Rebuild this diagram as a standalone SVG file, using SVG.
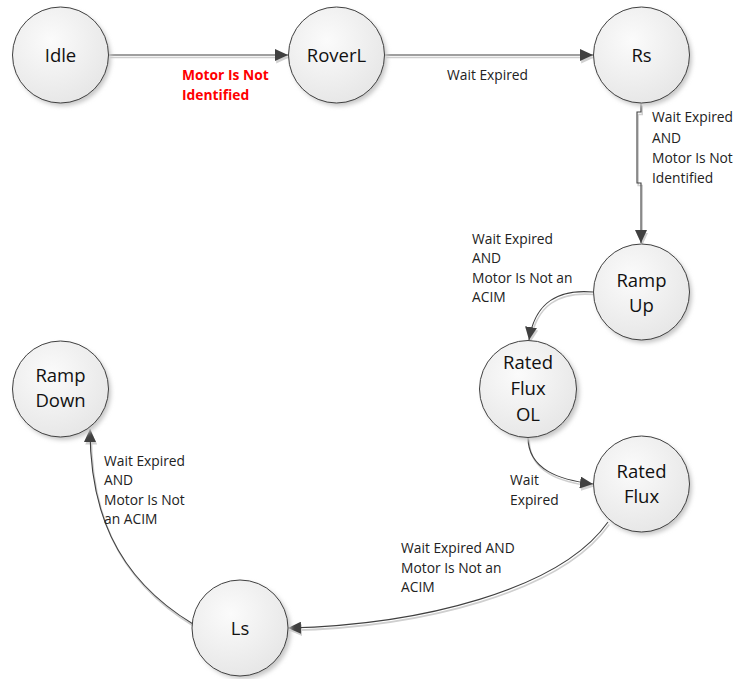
<svg xmlns="http://www.w3.org/2000/svg" width="734" height="679" viewBox="0 0 734 679">
<style>
.node circle.body{fill:url(#g);stroke:#404040;stroke-width:1}
.node circle.sh{fill:#c8c8c8;filter:url(#blur)}
.node text{font-family:"Open Sans",sans-serif;font-size:18.5px;fill:#111;text-anchor:middle}
.conn path.l{fill:none;stroke:#404040;stroke-width:1.1;marker-end:url(#ah)}
.conn path.s{fill:none;stroke:#cfcfcf;stroke-width:1.6;marker-end:url(#ahs)}
.lbl{font-family:"Open Sans",sans-serif;font-size:13.8px;fill:#222}
.red{fill:#ff0000;font-weight:bold}
</style>
<defs>
<radialGradient id="g" cx="0.4" cy="0.35" r="0.7">
<stop offset="0" stop-color="#fbfbfb"/>
<stop offset="1" stop-color="#e6e6e6"/>
</radialGradient>
<filter id="blur" x="-20%" y="-20%" width="140%" height="140%"><feGaussianBlur stdDeviation="2"/></filter>
<marker id="ah" markerUnits="userSpaceOnUse" markerWidth="14" markerHeight="12" refX="13" refY="6" orient="auto"><path d="M0,0 L13,6 L0,12 Z" fill="#404040"/></marker>
<marker id="ahs" markerUnits="userSpaceOnUse" markerWidth="14" markerHeight="12" refX="13" refY="6" orient="auto"><path d="M0,0 L13,6 L0,12 Z" fill="#d0d0d0"/></marker>
</defs>
<rect width="734" height="679" fill="#ffffff"/>

<g id="connectors" class="conn">
<g transform="translate(1.2,2.5)">
<path class="s" d="M109,55 L288,55"/>
<path class="s" d="M385,55 L593,55"/>
<path class="s" d="M641,103 L641,112 L637,112 L637,183 L641,183 L641,243"/>
<path class="s" d="M593,292 C558,289 535,302 529,340"/>
<path class="s" d="M528,437 C528,470 560,480 593,484"/>
<path class="s" d="M608,522 C560,590 420,625 288,628"/>
<path class="s" d="M193,624 C112,575 90,505 90,429"/>
</g>
<path class="l" d="M109,55 L288,55"/>
<path class="l" d="M385,55 L593,55"/>
<path class="l" d="M641,103 L641,112 L637,112 L637,183 L641,183 L641,243"/>
<path class="l" d="M593,292 C558,289 535,302 529,340"/>
<path class="l" d="M528,437 C528,470 560,480 593,484"/>
<path class="l" d="M608,522 C560,590 420,625 288,628"/>
<path class="l" d="M193,624 C112,575 90,505 90,429"/>
</g>

<g id="labels">
<text class="lbl red" x="182" y="80">Motor Is Not</text>
<text class="lbl red" x="182" y="100">Identified</text>
<text class="lbl" x="447" y="80">Wait Expired</text>
<text class="lbl" x="652" y="122">Wait Expired</text>
<text class="lbl" x="652" y="143">AND</text>
<text class="lbl" x="652" y="163">Motor Is Not</text>
<text class="lbl" x="652" y="183">Identified</text>
<text class="lbl" x="472" y="244">Wait Expired</text>
<text class="lbl" x="472" y="263">AND</text>
<text class="lbl" x="472" y="283">Motor Is Not an</text>
<text class="lbl" x="472" y="302">ACIM</text>
<text class="lbl" x="510" y="485">Wait</text>
<text class="lbl" x="510" y="505">Expired</text>
<text class="lbl" x="104" y="466">Wait Expired</text>
<text class="lbl" x="104" y="485">AND</text>
<text class="lbl" x="104" y="505">Motor Is Not</text>
<text class="lbl" x="104" y="524">an ACIM</text>
<text class="lbl" x="401" y="553">Wait Expired AND</text>
<text class="lbl" x="401" y="573">Motor Is Not an</text>
<text class="lbl" x="401" y="592">ACIM</text>
</g>

<g id="idle" class="node"><circle class="sh" cx="63" cy="58" r="48"/><circle class="body" cx="60.5" cy="55" r="48"/><text x="60.5" y="62">Idle</text></g>
<g id="roverl" class="node"><circle class="sh" cx="339" cy="58" r="48"/><circle class="body" cx="336.5" cy="55" r="48"/><text x="336.5" y="62">RoverL</text></g>
<g id="rs" class="node"><circle class="sh" cx="644" cy="58" r="48"/><circle class="body" cx="641.5" cy="55" r="48"/><text x="641.5" y="62">Rs</text></g>
<g id="rampup" class="node"><circle class="sh" cx="644" cy="295" r="48"/><circle class="body" cx="641.5" cy="292" r="48"/><text x="641.5" y="287">Ramp</text><text x="641.5" y="312">Up</text></g>
<g id="ratedfluxol" class="node"><circle class="sh" cx="531" cy="392" r="48.5"/><circle class="body" cx="528" cy="389" r="48.5"/><text x="528" y="369">Rated</text><text x="528" y="395">Flux</text><text x="528" y="421">OL</text></g>
<g id="ratedflux" class="node"><circle class="sh" cx="644" cy="487" r="48"/><circle class="body" cx="641.5" cy="484" r="48"/><text x="641.5" y="478">Rated</text><text x="641.5" y="503">Flux</text></g>
<g id="rampdown" class="node"><circle class="sh" cx="63" cy="392" r="48"/><circle class="body" cx="60.5" cy="389" r="48"/><text x="60.5" y="382">Ramp</text><text x="60.5" y="407">Down</text></g>
<g id="ls" class="node"><circle class="sh" cx="243" cy="631" r="48"/><circle class="body" cx="240" cy="628" r="48"/><text x="240" y="635">Ls</text></g>
</svg>
